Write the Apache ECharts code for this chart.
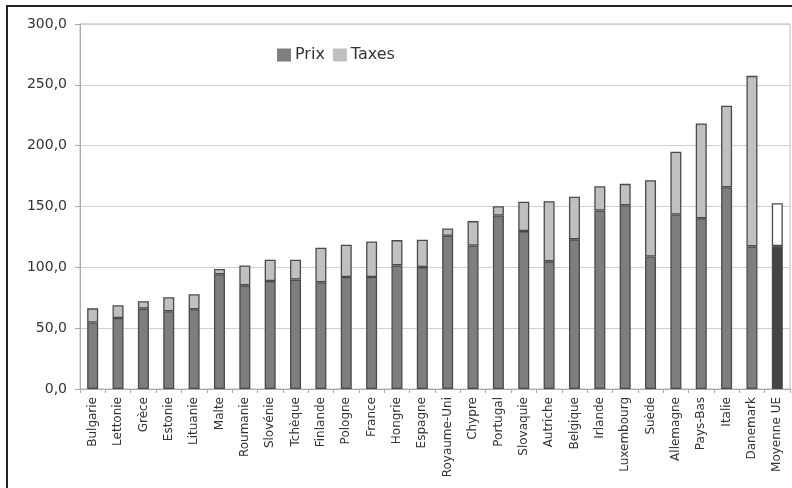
<!DOCTYPE html>
<html>
<head>
<meta charset="utf-8">
<script src="https://cdn.jsdelivr.net/npm/echarts@6/dist/echarts.min.js"></script>
<style>html,body{margin:0;padding:0;background:#fff}#c{width:792px;height:488px}</style>
</head>
<body>
<div id="c"></div>
<script>
var categories = ["Bulgarie","Lettonie","Grèce","Estonie","Lituanie","Malte","Roumanie","Slovénie","Tchèque","Finlande","Pologne","France","Hongrie","Espagne","Royaume-Uni","Chypre","Portugal","Slovaquie","Autriche","Belgique","Irlande","Luxembourg","Suède","Allemagne","Pays-Bas","Italie","Danemark","Moyenne UE"];
var prix   = [54.6, 58.4, 66.1, 63.9, 65.6, 94.3, 85.2, 88.8, 89.9, 87.7, 92.0, 92.0, 101.6, 100.2, 126.0, 118.0, 142.6, 129.8, 104.9, 123.0, 146.7, 151.0, 108.9, 143.4, 140.4, 165.8, 117.2, 117.4];
var totals = [66.3, 68.9, 72.1, 75.4, 77.9, 98.6, 101.6, 106.3, 106.3, 116.1, 118.6, 121.3, 122.4, 122.7, 132.0, 138.0, 150.2, 153.9, 154.3, 158.0, 166.6, 168.6, 171.6, 195.1, 218.3, 232.8, 257.4, 152.7];
var yTicks = [0, 50, 100, 150, 200, 250, 300];

var taxes = totals.map(function(t, i){ return Math.round((t - prix[i]) * 10) / 10; });
var last = categories.length - 1;
var prixData = prix.map(function(v, i){
  return i === last ? {value: v, itemStyle: {color: '#444444'}} : v;
});
var taxesData = taxes.map(function(v, i){
  return i === last ? {value: v, itemStyle: {color: '#ffffff'}} : v;
});

var chart = echarts.init(document.getElementById('c'), null, {renderer: 'canvas'});
chart.setOption({
  animation: false,
  textStyle: {fontFamily: 'DejaVu Sans'},
  graphic: [{
    type: 'rect', z: 100,
    shape: {x: 7, y: 6, width: 800, height: 500},
    style: {fill: 'none', stroke: '#222', lineWidth: 2}
  }],
  legend: {
    left: 272, top: 42, itemWidth: 14, itemHeight: 13, itemGap: 8, icon: 'rect',
    textStyle: {fontSize: 16, color: '#333', fontFamily: 'DejaVu Sans', padding: [0, 0, 0, -1]},
    data: [
      {name: 'Prix', itemStyle: {color: '#7e7e7e', borderWidth: 0}},
      {name: 'Taxes', itemStyle: {color: '#c0c0c0', borderWidth: 0}}
    ]
  },
  grid: {left: 80, right: 2, top: 24, bottom: 99, show: true, borderColor: '#bbb', borderWidth: 1},
  xAxis: {
    type: 'category', data: categories,
    axisLine: {lineStyle: {color: '#aaa'}},
    axisTick: {show: true, alignWithLabel: false, length: 4, lineStyle: {color: '#aaa'}},
    axisLabel: {rotate: 90, interval: 0, fontSize: 12, color: '#333', margin: 8}
  },
  yAxis: {
    type: 'value', min: yTicks[0], max: yTicks[yTicks.length - 1], interval: 50,
    axisLine: {show: true, lineStyle: {color: '#aaa'}},
    axisTick: {show: true, length: 5, lineStyle: {color: '#aaa'}},
    splitLine: {lineStyle: {color: '#d0d0d0'}},
    axisLabel: {fontSize: 14, color: '#333', margin: 13,
      formatter: function(v){ return v.toFixed(1).replace('.', ','); }}
  },
  series: [
    {name: 'Prix', type: 'bar', stack: 'a', barWidth: 11, data: prixData,
     itemStyle: {color: '#7e7e7e', borderColor: '#4a4a4a', borderWidth: 1.3}},
    {name: 'Taxes', type: 'bar', stack: 'a', barWidth: 11, data: taxesData,
     itemStyle: {color: '#c0c0c0', borderColor: '#4a4a4a', borderWidth: 1.3}}
  ]
});
</script>
</body>
</html>
